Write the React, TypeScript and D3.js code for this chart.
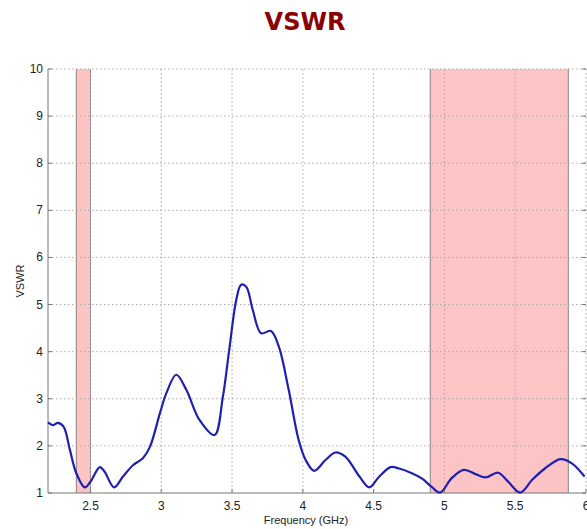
import * as d3 from "d3";
import { useEffect, useRef } from "react";

// frequency (GHz) and VSWR
const freq = [
  2.2, 2.237, 2.27, 2.31, 2.355, 2.4, 2.46, 2.5, 2.566, 2.6, 2.667, 2.73, 2.8,
  2.87, 2.92, 2.99, 3.036, 3.106, 3.177, 3.27, 3.376, 3.435, 3.48, 3.53, 3.564,
  3.6, 3.646, 3.705, 3.775, 3.83, 3.9, 3.97, 4.02, 4.08, 4.16, 4.23, 4.3, 4.4,
  4.47, 4.54, 4.62, 4.68, 4.77, 4.84, 4.91, 4.97, 5.05, 5.137, 5.22, 5.29, 5.38,
  5.45, 5.536, 5.62, 5.71, 5.82, 5.9, 5.99,
];
const vswr = [
  2.5, 2.44, 2.49, 2.41, 1.91, 1.42, 1.12, 1.24, 1.55, 1.45, 1.12, 1.35, 1.59,
  1.74, 1.98, 2.69, 3.12, 3.51, 3.19, 2.55, 2.23, 3.04, 4.04, 5.1, 5.42, 5.38,
  4.89, 4.39, 4.44, 4.11, 3.19, 2.13, 1.7, 1.47, 1.7, 1.86, 1.77, 1.35, 1.12,
  1.35, 1.55, 1.52, 1.42, 1.31, 1.13, 1.01, 1.31, 1.49, 1.4, 1.33, 1.43, 1.24,
  1.01, 1.28, 1.52, 1.72, 1.63, 1.35,
];
// highlighted bands (GHz)
const bandStart = [2.4, 4.9];
const bandEnd = [2.5, 5.875];

const xTicks = [2.5, 3, 3.5, 4, 4.5, 5, 5.5, 6];
const yTicks = [1, 2, 3, 4, 5, 6, 7, 8, 9, 10];

const WIDTH = 587;
const HEIGHT = 529;

const App = () => {
  const svgRef = useRef(null);

  useEffect(() => {
    const svg = d3.select(svgRef.current);
    svg.selectAll("*").remove();

    const left = 48,
      right = 586,
      top = 69,
      bottom = 493;

    const x = d3.scaleLinear([2.2, 6], [left, right]);
    const y = d3.scaleLinear([1, 10], [bottom, top]);

    svg
      .append("text")
      .attr("x", 305)
      .attr("y", 30)
      .attr("text-anchor", "middle")
      .attr("font-family", "DejaVu Sans")
      .attr("font-weight", "bold")
      .attr("font-size", 24)
      .attr("fill", "#8b0000")
      .text("VSWR");

    // bands: pink fill with grey side edges
    bandStart.forEach((b, i) => {
      svg
        .append("rect")
        .attr("x", x(b))
        .attr("y", top)
        .attr("width", x(bandEnd[i]) - x(b))
        .attr("height", bottom - top)
        .attr("fill", "#fcc4c4");
      [b, bandEnd[i]].forEach((e) => {
        svg
          .append("line")
          .attr("x1", x(e))
          .attr("x2", x(e))
          .attr("y1", top)
          .attr("y2", bottom)
          .attr("stroke", "#8a8080")
          .attr("stroke-width", 1);
      });
    });

    // grid
    const grid = svg.append("g").attr("stroke", "#aaa").attr("stroke-width", 1).attr("stroke-dasharray", "1.5,2.5");
    yTicks.slice(1).forEach((t) => {
      grid.append("line").attr("x1", left).attr("x2", right).attr("y1", y(t)).attr("y2", y(t));
    });
    xTicks.forEach((t) => {
      grid.append("line").attr("x1", x(t)).attr("x2", x(t)).attr("y1", top).attr("y2", bottom);
    });

    // axes lines + inward ticks
    const ax = svg.append("g").attr("stroke", "#777").attr("stroke-width", 1);
    ax.append("line").attr("x1", left).attr("x2", left).attr("y1", top).attr("y2", bottom);
    ax.append("line").attr("x1", left).attr("x2", right).attr("y1", bottom).attr("y2", bottom);
    yTicks.forEach((t) => {
      ax.append("line").attr("x1", left).attr("x2", left + 4).attr("y1", y(t)).attr("y2", y(t));
      ax.append("line").attr("x1", right - 4).attr("x2", right).attr("y1", y(t)).attr("y2", y(t));
    });
    xTicks.forEach((t) => {
      ax.append("line").attr("x1", x(t)).attr("x2", x(t)).attr("y1", bottom).attr("y2", bottom - 4);
    });

    const labels = svg
      .append("g")
      .attr("font-family", "Liberation Sans, Arial")
      .attr("font-size", 12)
      .attr("fill", "#222");
    yTicks.forEach((t) => {
      labels
        .append("text")
        .attr("x", left - 5)
        .attr("y", y(t) + 4)
        .attr("text-anchor", "end")
        .text(t);
    });
    xTicks.forEach((t) => {
      labels
        .append("text")
        .attr("x", x(t))
        .attr("y", bottom + 17)
        .attr("text-anchor", "middle")
        .text(t);
    });

    labels
      .append("text")
      .attr("x", 306)
      .attr("y", 524)
      .attr("text-anchor", "middle")
      .attr("font-size", 11)
      .text("Frequency (GHz)");
    labels
      .append("text")
      .attr("transform", `translate(24,${y(5.5)}) rotate(-90)`)
      .attr("text-anchor", "middle")
      .attr("font-size", 11)
      .text("VSWR");

    const line = d3
      .line<number>()
      .x((d, i) => x(freq[i]))
      .y((d) => y(d))
      .curve(d3.curveCatmullRom.alpha(0.5));

    svg
      .append("path")
      .attr("d", line(vswr) as string)
      .attr("fill", "none")
      .attr("stroke", "#1f1fb0")
      .attr("stroke-width", 2.2)
      .attr("stroke-linejoin", "round");
  }, []);

  return (
    <div style={{ position: "absolute", left: 0, top: 0 }}>
      <svg ref={svgRef} width={WIDTH} height={HEIGHT} style={{ display: "block", background: "white" }}></svg>
    </div>
  );
};

export default App;
